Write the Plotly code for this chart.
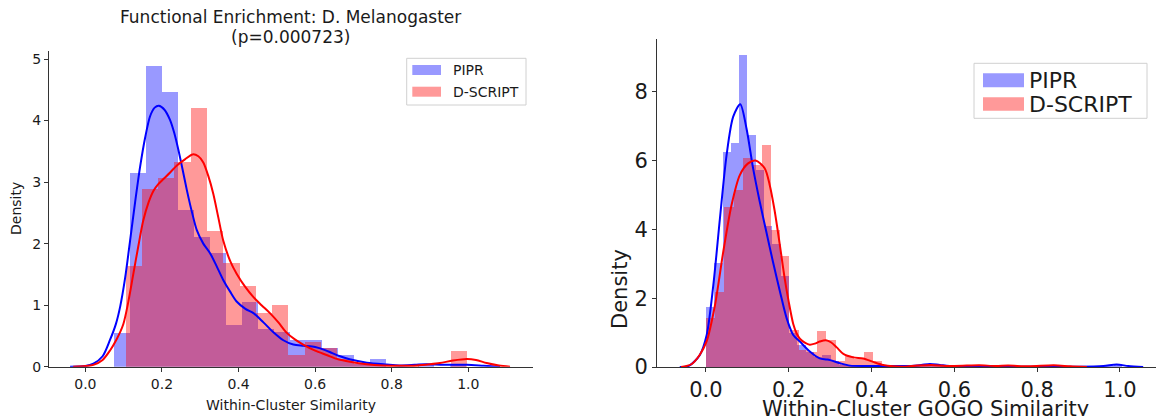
import numpy as np
import plotly.graph_objects as go

# ---------------- data: left panel (Functional Enrichment) ----------------
left_pipr_bin_start = 0.075
left_pipr_bin_width = 0.0418
left_pipr_hist = [0.55, 3.15, 4.89, 4.46, 2.54, 2.10, 1.85, 0.68, 1.05, 0.62, 0.56,
                  0.43, 0.43, 0.30, 0.19, 0.04, 0.12, 0.0, 0.0, 0.05, 0.0, 0.05]
left_dscript_bin_start = 0.105
left_dscript_bin_width = 0.0425
left_dscript_hist = [1.63, 2.88, 3.07, 3.32, 4.20, 2.20, 1.69, 1.31, 0.87, 1.00, 0.19,
                     0.40, 0.30, 0.12, 0.06, 0.04, 0.02, 0.02, 0.0, 0.0, 0.25]

left_pipr_kde_x = [-0.04, 0.0, 0.021, 0.045, 0.064, 0.080, 0.091, 0.104, 0.117, 0.130, 0.143,
                   0.156, 0.169, 0.181, 0.192, 0.206, 0.221, 0.232, 0.243, 0.254, 0.265, 0.278,
                   0.291, 0.308, 0.326, 0.343, 0.360, 0.378, 0.395, 0.418, 0.439, 0.465, 0.491,
                   0.517, 0.543, 0.570, 0.600, 0.626, 0.645, 0.665, 0.690, 0.735, 0.787, 0.82,
                   0.86, 0.891, 0.935, 0.996, 1.04, 1.083]
left_pipr_kde_y = [0.0, 0.01, 0.05, 0.17, 0.43, 0.70, 0.98, 1.45, 2.06, 2.68, 3.25,
                   3.72, 4.07, 4.21, 4.24, 4.18, 4.01, 3.80, 3.52, 3.20, 2.87, 2.52,
                   2.22, 2.00, 1.84, 1.63, 1.41, 1.22, 1.06, 0.94, 0.87, 0.72, 0.56,
                   0.43, 0.36, 0.34, 0.32, 0.27, 0.22, 0.17, 0.12, 0.065, 0.035, 0.02,
                   0.03, 0.04, 0.03, 0.03, 0.015, 0.0]
left_dscript_kde_x = [-0.032, 0.0, 0.021, 0.045, 0.064, 0.082, 0.099, 0.112, 0.125, 0.138, 0.151,
                      0.165, 0.178, 0.191, 0.204, 0.222, 0.239, 0.260, 0.280, 0.295, 0.308,
                      0.321, 0.334, 0.347, 0.360, 0.378, 0.395, 0.417, 0.439, 0.46, 0.482,
                      0.504, 0.526, 0.548, 0.569, 0.600, 0.630, 0.66, 0.691, 0.735, 0.778,
                      0.82, 0.865, 0.90, 0.926, 0.96, 0.996, 1.02, 1.048, 1.08, 1.109]
left_dscript_kde_y = [0.0, 0.01, 0.03, 0.11, 0.26, 0.45, 0.69, 1.05, 1.50, 1.95, 2.37,
                      2.67, 2.86, 2.97, 3.05, 3.16, 3.27, 3.37, 3.45, 3.42, 3.32,
                      3.10, 2.81, 2.43, 2.05, 1.72, 1.51, 1.30, 1.13, 1.00, 0.87,
                      0.72, 0.55, 0.44, 0.36, 0.26, 0.19, 0.12, 0.08, 0.04, 0.02,
                      0.015, 0.02, 0.04, 0.06, 0.10, 0.125, 0.11, 0.06, 0.02, 0.0]

# ---------------- data: right panel (GOGO similarity) ----------------
right_pipr_bin_start = 0.0
right_pipr_bin_width = 0.0201
right_pipr_hist = [1.75, 3.05, 6.26, 6.52, 9.09, 6.76, 5.75, 4.10, 3.60, 2.65, 1.00, 0.64,
                   0.45, 0.30, 0.35, 0.20, 0.06, 0.05, 0.04, 0.03, 0.05, 0.03, 0.04, 0.03,
                   0.05, 0.04, 0.07, 0.10, 0.05, 0.03, 0.0, 0.02, 0.0, 0.02, 0.0, 0.02,
                   0.0, 0.0, 0.02, 0.0, 0.0, 0.02, 0.0, 0.0, 0.0, 0.0, 0.0, 0.03, 0.05, 0.10]
right_dscript_bin_start = 0.0
right_dscript_bin_width = 0.0224
right_dscript_hist = [1.45, 2.20, 4.66, 5.15, 6.10, 5.90, 6.47, 4.00, 3.23, 1.10, 0.50, 0.45,
                      1.05, 0.80, 0.20, 0.32, 0.25, 0.45, 0.20, 0.05, 0.06, 0.03, 0.03, 0.06,
                      0.10, 0.06, 0.03, 0.05, 0.08, 0.04, 0.05, 0.08, 0.05, 0.03, 0.02, 0.03,
                      0.06, 0.08, 0.03]

right_pipr_kde_x = [-0.063, -0.04, -0.0145, 0.002, 0.018, 0.034, 0.05, 0.066, 0.083, 0.098,
                    0.114, 0.130, 0.146, 0.162, 0.179, 0.195, 0.211, 0.227, 0.251, 0.275,
                    0.29, 0.300, 0.324, 0.348, 0.40, 0.445, 0.49, 0.52, 0.541, 0.565,
                    0.60, 0.70, 0.80, 0.90, 0.96, 0.992, 1.02, 1.056]
right_pipr_kde_y = [0.0, 0.04, 0.35, 0.93, 2.38, 4.32, 6.16, 7.28, 7.64, 6.94,
                    5.78, 4.81, 3.93, 3.06, 2.19, 1.42, 0.93, 0.74, 0.45, 0.25,
                    0.22, 0.20, 0.11, 0.04, 0.03, 0.03, 0.03, 0.06, 0.09, 0.06,
                    0.02, 0.01, 0.01, 0.01, 0.03, 0.07, 0.03, 0.0]
right_dscript_kde_x = [-0.06, -0.035, -0.015, 0.002, 0.022, 0.042, 0.062, 0.082, 0.102, 0.12,
                       0.142, 0.154, 0.166, 0.178, 0.19, 0.2, 0.211, 0.219, 0.227, 0.24,
                       0.251, 0.263, 0.275, 0.29, 0.302, 0.316, 0.332, 0.356, 0.38, 0.404,
                       0.428, 0.452, 0.48, 0.51, 0.545, 0.58, 0.63, 0.66, 0.70, 0.73,
                       0.78, 0.84, 0.88, 0.92]
right_dscript_kde_y = [0.0, 0.08, 0.35, 0.75, 1.80, 3.35, 4.71, 5.58, 5.92, 6.00,
                       5.78, 5.30, 4.55, 3.60, 2.60, 1.90, 1.25, 0.98, 0.82, 0.70,
                       0.65, 0.68, 0.74, 0.78, 0.72, 0.57, 0.38, 0.28, 0.25, 0.15,
                       0.06, 0.02, 0.01, 0.04, 0.06, 0.03, 0.04, 0.05, 0.03, 0.04,
                       0.02, 0.05, 0.02, 0.0]

tick_vals_x = [0.0, 0.2, 0.4, 0.6, 0.8, 1.0]
tick_text_x = ["0.0", "0.2", "0.4", "0.6", "0.8", "1.0"]
left_tick_vals_y = [0, 1, 2, 3, 4, 5]
right_tick_vals_y = [0, 2, 4, 6, 8]

series_names = ["PIPR", "D-SCRIPT"]

# ---------------- styling ----------------
W, H = 1156, 416
FONT = "DejaVu Sans"
TXT = "#1a1a1a"
BLUE_BAR = "rgba(0,0,255,0.4)"
RED_BAR = "rgba(255,0,0,0.4)"
AXC = "#333333"


def centers(start, width, n):
    return start + width * (np.arange(n) + 0.5)


fig = go.Figure()


def add_panel(xa, ya, pipr_hist, pipr_start, pipr_w, pipr_kx, pipr_ky,
              ds_hist, ds_start, ds_w, ds_kx, ds_ky):
    fig.add_trace(go.Bar(x=centers(pipr_start, pipr_w, len(pipr_hist)), y=pipr_hist,
                         width=pipr_w, marker=dict(color=BLUE_BAR, line=dict(width=0)),
                         name=series_names[0], xaxis=xa, yaxis=ya, showlegend=False,
                         hoverinfo="skip"))
    fig.add_trace(go.Bar(x=centers(ds_start, ds_w, len(ds_hist)), y=ds_hist,
                         width=ds_w, marker=dict(color=RED_BAR, line=dict(width=0)),
                         name=series_names[1], xaxis=xa, yaxis=ya, showlegend=False,
                         hoverinfo="skip"))
    fig.add_trace(go.Scatter(x=pipr_kx, y=pipr_ky, mode="lines", name=series_names[0],
                             line=dict(color="#0000ff", width=2, shape="spline", smoothing=0.8),
                             xaxis=xa, yaxis=ya, showlegend=False, hoverinfo="skip"))
    fig.add_trace(go.Scatter(x=ds_kx, y=ds_ky, mode="lines", name=series_names[1],
                             line=dict(color="#ff0000", width=2, shape="spline", smoothing=0.8),
                             xaxis=xa, yaxis=ya, showlegend=False, hoverinfo="skip"))


add_panel("x", "y", left_pipr_hist, left_pipr_bin_start, left_pipr_bin_width,
          left_pipr_kde_x, left_pipr_kde_y, left_dscript_hist, left_dscript_bin_start,
          left_dscript_bin_width, left_dscript_kde_x, left_dscript_kde_y)
add_panel("x2", "y2", right_pipr_hist, right_pipr_bin_start, right_pipr_bin_width,
          right_pipr_kde_x, right_pipr_kde_y, right_dscript_hist, right_dscript_bin_start,
          right_dscript_bin_width, right_dscript_kde_x, right_dscript_kde_y)


def px_x(p):
    return p / W


def px_y(p):
    return (H - p) / H


axis_common = dict(showline=True, linecolor=AXC, linewidth=1, ticks="outside", ticklen=4,
                   tickcolor=AXC, tickwidth=1, showgrid=False, zeroline=False,
                   fixedrange=True, automargin=False)

fig.update_layout(
    width=W, height=H,
    margin=dict(l=0, r=0, t=0, b=0, pad=0),
    paper_bgcolor="white", plot_bgcolor="white",
    font=dict(family=FONT, color=TXT),
    barmode="overlay", bargap=0,
    showlegend=False,
    xaxis=dict(domain=[px_x(49), px_x(533)], range=[-0.095, 1.169], anchor="y",
               tickvals=tick_vals_x, ticktext=tick_text_x, tickfont=dict(size=14, color=TXT),
               **axis_common),
    yaxis=dict(domain=[px_y(366.7), px_y(51)], range=[0, 5.13], anchor="x",
               tickvals=left_tick_vals_y, tickfont=dict(size=14, color=TXT), **axis_common),
    xaxis2=dict(domain=[px_x(657), 1.0], range=[-0.118, 1.087], anchor="y2",
                tickvals=tick_vals_x, ticktext=tick_text_x, tickfont=dict(size=21, color=TXT),
                **axis_common),
    yaxis2=dict(domain=[px_y(367), px_y(38.5)], range=[0, 9.55], anchor="x2",
                tickvals=right_tick_vals_y, tickfont=dict(size=21, color=TXT), **axis_common),
)

# ---------------- legends drawn as boxes + swatches + text ----------------
shapes = []
annotations = []


def legend_box(x0, y0, x1, y1, sw_x0, sw_x1, sw_rows, text_x, text_rows, fsize):
    shapes.append(dict(type="rect", xref="paper", yref="paper",
                       x0=px_x(x0), x1=px_x(x1), y0=px_y(y1), y1=px_y(y0),
                       line=dict(color="#d0d0d0", width=1), fillcolor="rgba(255,255,255,0.8)",
                       layer="above"))
    colors = [BLUE_BAR, RED_BAR]
    for (r0, r1), col in zip(sw_rows, colors):
        shapes.append(dict(type="rect", xref="paper", yref="paper",
                           x0=px_x(sw_x0), x1=px_x(sw_x1), y0=px_y(r1), y1=px_y(r0),
                           line=dict(width=0), fillcolor=col, layer="above"))
    for name, ty in zip(series_names, text_rows):
        annotations.append(dict(text=name, x=px_x(text_x), y=px_y(ty), xref="paper",
                                yref="paper", xanchor="left", yanchor="middle",
                                showarrow=False, font=dict(size=fsize, color=TXT)))


legend_box(406.7, 58.3, 526, 105, 412.3, 441, [(65, 75), (86.7, 96.7)], 451,
           [70, 91.7], 14)
legend_box(974, 63.3, 1147, 118.3, 983, 1024, [(73.3, 87.3), (97.3, 110.7)], 1027,
           [80.7, 104], 22)

annotations += [
    dict(text="Functional Enrichment: D. Melanogaster", x=px_x(290), y=px_y(16.7),
         xref="paper", yref="paper", xanchor="center", yanchor="middle",
         showarrow=False, font=dict(size=17, color=TXT)),
    dict(text="(p=0.000723)", x=px_x(290), y=px_y(37), xref="paper", yref="paper",
         xanchor="center", yanchor="middle", showarrow=False, font=dict(size=17, color=TXT)),
    dict(text="Within-Cluster Similarity", x=px_x(291), y=px_y(405), xref="paper",
         yref="paper", xanchor="center", yanchor="middle", showarrow=False,
         font=dict(size=14, color=TXT)),
    dict(text="Density", x=px_x(16), y=px_y(209), xref="paper", yref="paper",
         xanchor="center", yanchor="middle", textangle=-90, showarrow=False,
         font=dict(size=14, color=TXT)),
    dict(text="Density", x=px_x(620), y=px_y(289), xref="paper", yref="paper",
         xanchor="center", yanchor="middle", textangle=-90, showarrow=False,
         font=dict(size=21, color=TXT)),
    dict(text="Within-Cluster GOGO Similarity", x=px_x(926), y=px_y(409), xref="paper",
         yref="paper", xanchor="center", yanchor="middle", showarrow=False,
         font=dict(size=21, color=TXT)),
]
fig.update_layout(shapes=shapes, annotations=annotations)

fig.write_html("out.html", config={"displayModeBar": False},
               post_script="document.body.style.margin='0px';")
